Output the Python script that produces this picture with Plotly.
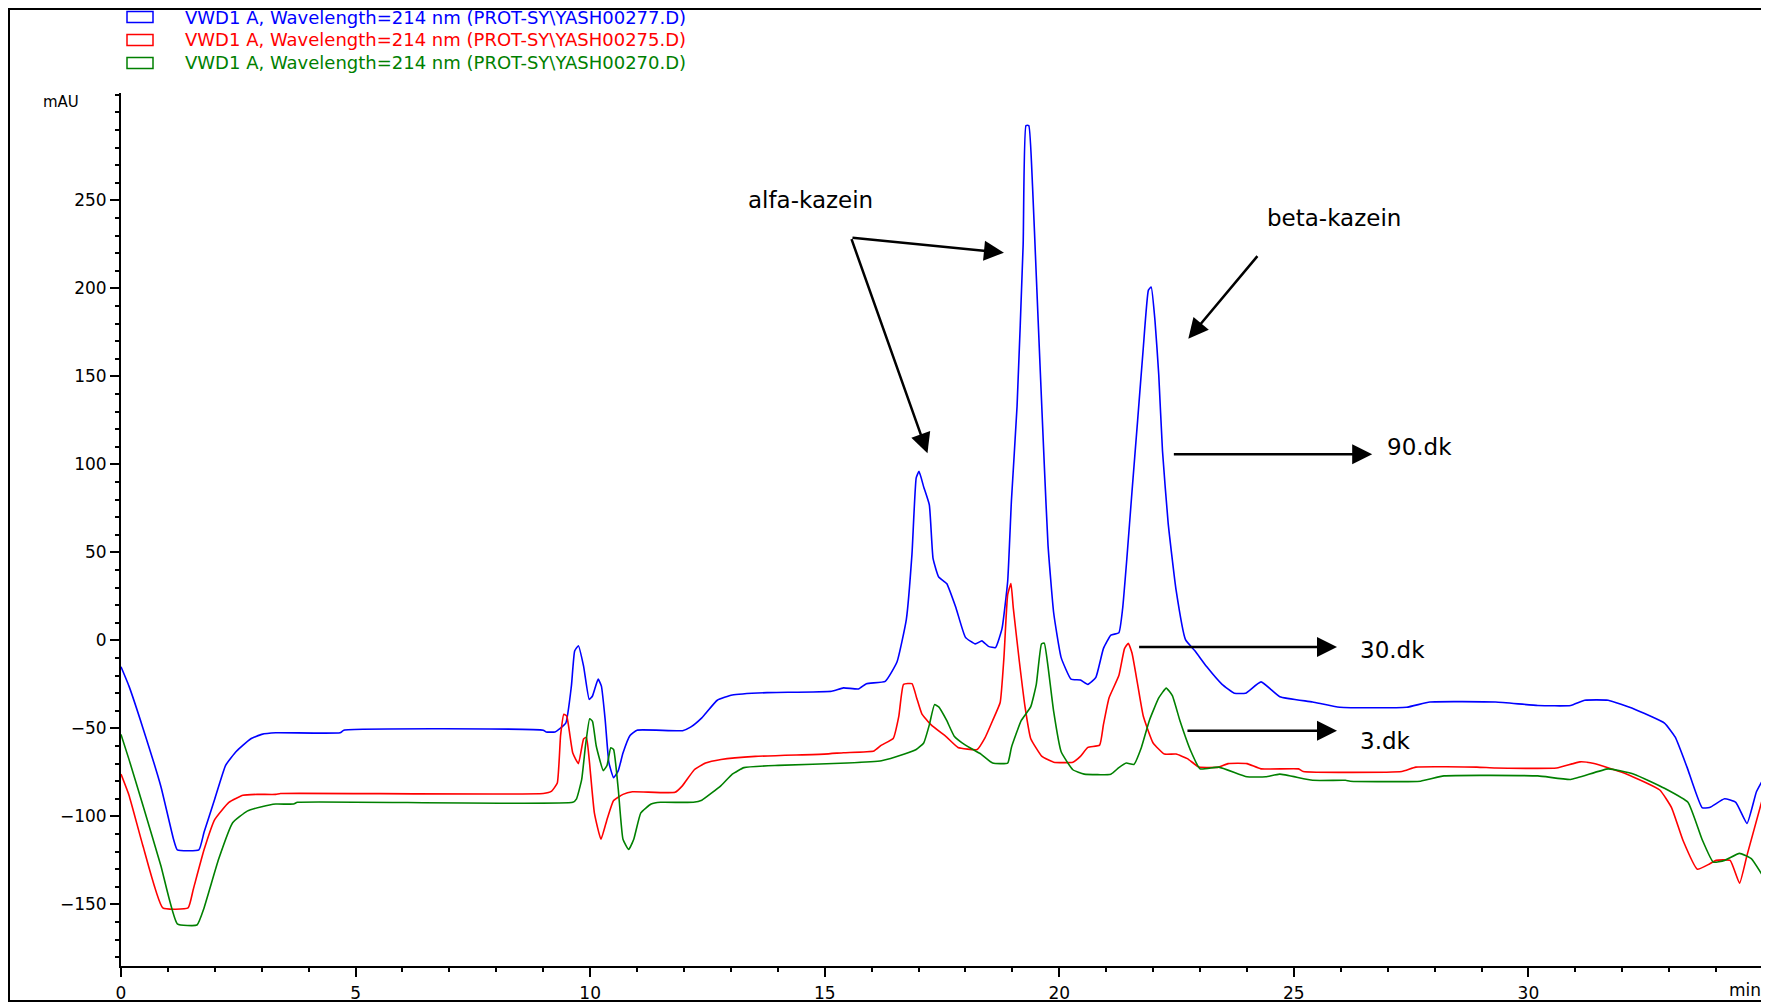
import plotly.graph_objects as go

# ---------------------
# 1. Data
# ---------------------
legend_labels = [
    "VWD1 A, Wavelength=214 nm (PROT-SY\\YASH00277.D)",
    "VWD1 A, Wavelength=214 nm (PROT-SY\\YASH00275.D)",
    "VWD1 A, Wavelength=214 nm (PROT-SY\\YASH00270.D)",
]
line_colors = ["#0000ff", "#ff0000", "#008000"]

# 90.dk sample (blue)
t_90 = [0, 0.17, 0.47, 0.85, 1.12, 1.2, 1.66, 1.77, 2.0, 2.23, 2.46, 2.76, 3.0, 3.3, 4.67, 4.75,
        9.0, 9.06, 9.25, 9.48, 9.6, 9.67, 9.75, 9.86, 9.98, 10.05, 10.17, 10.24, 10.32, 10.4,
        10.5, 10.6, 10.7, 10.85, 11.0, 11.97, 12.14, 12.38, 12.71, 13.03, 13.77, 15.15, 15.4,
        15.72, 15.89, 16.29, 16.54, 16.74, 16.86, 16.95, 17.01, 17.11, 17.23, 17.31, 17.43,
        17.6, 17.8, 18.0, 18.21, 18.35, 18.49, 18.64, 18.78, 18.9, 18.98, 19.1, 19.23, 19.29,
        19.35, 19.43, 19.51, 19.59, 19.68, 19.76, 19.88, 20.04, 20.25, 20.45, 20.61, 20.78,
        20.94, 21.1, 21.27, 21.35, 21.44, 21.55, 21.67, 21.79, 21.9, 21.96, 22.04, 22.12, 22.2,
        22.32, 22.49, 22.69, 22.89, 23.14, 23.47, 23.73, 23.97, 24.3, 24.7, 25.4, 25.98, 27.4,
        27.9, 29.3, 30.2, 30.9, 31.2, 31.7, 32.25, 32.9, 33.13, 33.38, 33.7, 33.86, 34.18,
        34.42, 34.66, 34.86, 35.0]
mau_90 = [-15, -26, -50, -83, -113, -119, -119, -109, -90, -71, -63, -56, -53.4, -52.5, -52.5, -51,
          -51, -52, -52, -47, -26, -6, -3, -14.6, -33.5, -31.6, -22, -26, -45, -69.5,
          -78, -74, -64, -54, -51, -51.3, -49.3, -44, -34, -31, -29.7, -28.9, -27,
          -27.6, -24.6, -23.3, -12.3, 12, 49, 92.3, 96, 87.2, 77, 46.4, 36,
          32.3, 18.3, 1.7, -2, -0.3, -3.4, -4.1, 6.8, 33.6, 79.5, 133, 225, 292.5,
          292.5, 258, 207, 156, 100, 54, 15.7, -9.8, -22, -22.5, -25, -21,
          -4.7, 3, 4.3, 18, 46.4, 84.6, 125, 166, 199, 200.7, 181.6, 151, 107.6,
          66.8, 28.5, 0.4, -5.9, -14.9, -25, -30, -30, -23.6, -32, -35, -38, -38,
          -35, -35, -37, -37, -34, -34, -39, -47, -55, -72, -95, -95, -90,
          -92, -104, -86, -79]

# 30.dk sample (red)
t_30 = [0, 0.17, 0.47, 0.89, 1.43, 1.54, 1.77, 2.0, 2.3, 2.6, 2.9, 3.3, 3.4, 9.0, 9.18, 9.3,
        9.37, 9.44, 9.5, 9.63, 9.75, 9.86, 9.92, 9.98, 10.09, 10.23, 10.36, 10.5, 10.7, 10.9,
        11.81, 11.97, 12.22, 12.46, 12.79, 13.52, 14.99, 15.4, 16.05, 16.21, 16.46, 16.58,
        16.68, 16.86, 16.96, 17.07, 17.27, 17.6, 17.84, 18.25, 18.41, 18.58, 18.74, 18.82,
        18.9, 18.97, 19.02, 19.15, 19.27, 19.39, 19.63, 19.88, 20.29, 20.45, 20.61, 20.86,
        20.94, 21.06, 21.27, 21.39, 21.47, 21.55, 21.67, 21.79, 22.0, 22.24, 22.49, 22.73,
        22.98, 23.4, 23.6, 24.0, 24.3, 25.1, 25.2, 27.3, 27.6, 28.9, 29.3, 30.6, 31.1, 31.4,
        32.1, 32.8, 33.05, 33.3, 33.6, 33.86, 34.0, 34.3, 34.5, 34.66, 35.0]
mau_30 = [-76, -88, -117, -152, -152, -141.5, -119, -101.7, -92, -88, -87.5, -87.5, -87, -87, -85.6, -81,
          -54, -42, -43, -64, -70, -56, -55, -67.6, -98, -113, -101.7, -91, -87.5, -86,
          -86.3, -82.5, -73.5, -69.7, -67.7, -65.9, -64.6, -63.8, -62.8, -59.5, -55.7, -43,
          -25, -24.6, -32.7, -41.7, -48, -55, -60.8, -62, -55.7, -45.5, -35.3, -9.8,
          26, 32.3, 18.3, -12.3, -37.8, -55.7, -65.9, -69.2, -69.2, -65.9, -60.8, -59.5,
          -48, -32.7, -20, -4.7, -1.6, -7.2, -25, -43, -58.3, -64.6, -64.6, -67.2,
          -72, -72, -70, -70, -73, -73, -74.5, -74.5, -72, -72, -72.5, -72.5, -69, -70,
          -76, -85, -95, -114, -130, -127, -125, -125, -138, -122, -89]

# 3.dk sample (green)
t_3 = [0, 0.17, 0.47, 0.85, 1.2, 1.62, 1.77, 2.08, 2.38, 2.69, 3.0, 3.3, 3.68, 3.76, 9.63, 9.71,
       9.82, 9.9, 9.99, 10.05, 10.13, 10.28, 10.36, 10.44, 10.5, 10.6, 10.7, 10.82, 10.93,
       11.08, 11.3, 11.5, 12.2, 12.38, 12.79, 13.03, 13.28, 14.01, 15.48, 16.21, 16.7, 16.95,
       17.11, 17.23, 17.34, 17.43, 17.6, 17.76, 18.0, 18.33, 18.58, 18.9, 18.98, 19.19, 19.39,
       19.51, 19.62, 19.68, 19.76, 19.88, 20.04, 20.29, 20.53, 21.1, 21.27, 21.43, 21.59,
       21.75, 21.92, 22.12, 22.28, 22.41, 22.57, 22.81, 23.0, 23.4, 24.0, 24.4, 24.7, 25.4,
       26.1, 26.2, 27.7, 28.2, 30.2, 30.9, 31.7, 32.25, 32.9, 33.4, 33.7, 33.94, 34.18, 34.5,
       34.75, 35.0]
mau_3 = [-53.4, -67.6, -94, -128, -161, -161.7, -152, -124.4, -103.6, -97, -94.5, -93, -93, -92, -92, -90,
         -79, -60, -44.5, -46, -60, -74, -71, -61, -62, -84.7, -113, -118.8, -113,
         -98, -93, -92, -92, -90.8, -82.5, -76, -72.3, -71, -69.7, -68.4, -64.6, -62,
         -58.3, -48, -36.5, -37.8, -45.5, -54.4, -59.5, -64.6, -69.7, -69.7, -60.8, -45.5, -37.8,
         -25, -2, -1.6, -14.9, -40.4, -63.3, -73.5, -76, -76, -72.3, -69.7, -70.5,
         -60.8, -45.5, -32.7, -27.1, -31.4, -45.5, -63.3, -73, -72, -77.5, -77.5, -76, -79.5,
         -79.5, -80, -80, -77, -77, -79, -73, -76, -84, -92, -113, -126, -125, -121,
         -124, -134]

x_ticks = [0, 5, 10, 15, 20, 25, 30]
y_ticks = [-150, -100, -50, 0, 50, 100, 150, 200, 250]

# ---------------------
# 2. Figure
# ---------------------
# the page body has an 8px margin, so the figure is a bit smaller and
# every pixel position below is given in page pixels and shifted back
OFF = 8
W, H = 1769 - OFF, 1003 - OFF
PLOT_L, PLOT_R, PLOT_T, PLOT_B = 121, 1763, 93, 966   # page pixels
L, T = PLOT_L - OFF, PLOT_T - OFF
R, B = W - (PLOT_R - OFF), H - (PLOT_B - OFF)
PW, PH = PLOT_R - PLOT_L, PLOT_B - PLOT_T


def px_x(px):
    return (px - PLOT_L) / PW


def px_y(py):
    return (PLOT_B - py) / PH


fig = go.Figure()
for t, v, c in [(t_90, mau_90, line_colors[0]), (t_30, mau_30, line_colors[1]), (t_3, mau_3, line_colors[2])]:
    fig.add_trace(go.Scatter(x=t, y=v, mode='lines',
                             line=dict(color=c, width=1.6, shape='spline', smoothing=0.4),
                             showlegend=False, hoverinfo='skip'))

axis_font = dict(family="DejaVu Sans", size=17, color="black")

fig.update_xaxes(
    range=[0, 35], tickmode='array', tickvals=x_ticks + [35], ticktext=[str(v) for v in x_ticks] + [""],
    ticks='outside', ticklen=9, tickwidth=1.5, tickcolor='black',
    minor=dict(tickmode='linear', tick0=0, dtick=1, ticklen=4, tickwidth=1.5, tickcolor='black', ticks='outside'),
    showline=True, linecolor='black', linewidth=2, showgrid=False, zeroline=False,
    tickfont=axis_font, ticklabelstandoff=2
)
fig.update_yaxes(
    range=[-185, 311], tickmode='array', tickvals=y_ticks,
    ticks='outside', ticklen=9, tickwidth=1.5, tickcolor='black',
    minor=dict(tickmode='linear', tick0=0, dtick=10, ticklen=4, tickwidth=1.5, tickcolor='black', ticks='outside'),
    showline=True, linecolor='black', linewidth=2, showgrid=False, zeroline=False,
    tickfont=axis_font, ticklabelstandoff=0
)

# outer frame (as close to the page corner as the body margin allows)
fig.add_shape(type='rect', xref='paper', yref='paper',
              x0=px_x(OFF + 1), x1=px_x(1766), y0=px_y(1001), y1=px_y(OFF + 1),
              line=dict(color='black', width=2))

# legend boxes + labels
row_y = [17, 40, 63]
for lab, c, yc in zip(legend_labels, line_colors, row_y):
    fig.add_shape(type='rect', xref='paper', yref='paper',
                  x0=px_x(127), x1=px_x(153), y0=px_y(yc + 5.5), y1=px_y(yc - 5.5),
                  line=dict(color=c, width=1.5))
    fig.add_annotation(x=px_x(183), y=px_y(yc), xref='paper', yref='paper', text=lab,
                       showarrow=False, xanchor='left', yanchor='middle',
                       font=dict(family="DejaVu Sans", size=18, color=c))

# axis unit labels
fig.add_annotation(x=px_x(61), y=px_y(102), xref='paper', yref='paper', text="mAU",
                   showarrow=False, xanchor='center', yanchor='middle',
                   font=dict(family="DejaVu Sans", size=15, color='black'))
fig.add_annotation(x=35, y=px_y(990), xref='x', yref='paper', text="min",
                   showarrow=False, xanchor='right', yanchor='middle',
                   font=dict(family="DejaVu Sans", size=17, color='black'))

# ---------------------
# 3. Peak labels and arrows
# ---------------------
note_font = dict(family="DejaVu Sans", size=23, color='black')
arrows = [
    # (head x, head y, tail x, tail y)
    (18.82, 220.3, 15.56, 228.8),
    (17.19, 106.3, 15.56, 228.8),
    (22.75, 171.4, 24.25, 219.2),
    (26.67, 105.8, 22.41, 105.8),
    (25.92, -3.8, 21.67, -3.8),
    (25.92, -51.3, 22.70, -51.3),
]
for hx, hy, tx, ty in arrows:
    fig.add_annotation(x=hx, y=hy, ax=tx, ay=ty, xref='x', yref='y', axref='x', ayref='y',
                       text="", showarrow=True, arrowhead=2, arrowsize=1.6, arrowwidth=2.5,
                       arrowcolor='black', standoff=0, startstandoff=0)

fig.add_annotation(x=14.7, y=250, text="alfa-kazein", showarrow=False, font=note_font)
fig.add_annotation(x=25.85, y=240, text="beta-kazein", showarrow=False, font=note_font)
fig.add_annotation(x=26.95, y=110, text="90.dk", showarrow=False, xanchor='left', font=note_font)
fig.add_annotation(x=26.37, y=-5.5, text="30.dk", showarrow=False, xanchor='left', font=note_font)
fig.add_annotation(x=26.37, y=-57, text="3.dk", showarrow=False, xanchor='left', font=note_font)

fig.update_layout(
    width=W, height=H,
    margin=dict(l=L, r=R, t=T, b=B, autoexpand=False),
    plot_bgcolor='white', paper_bgcolor='white',
    showlegend=False,
)

fig.write_html("out.html")
